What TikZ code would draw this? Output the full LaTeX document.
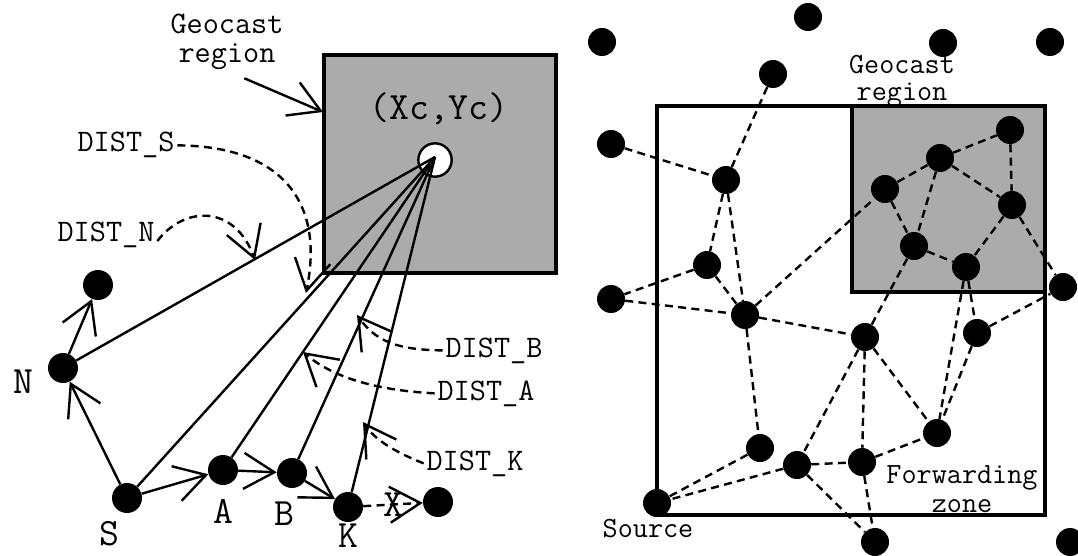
\documentclass[tikz,border=0pt]{standalone}
\usepackage{fontspec}
\usetikzlibrary{arrows.meta}

\definecolor{zonegray}{gray}{0.67}

\tikzset{
  dot/.style={circle, fill=black, inner sep=0pt, minimum size=22.5pt},
  rdot/.style={circle, fill=black, inner sep=0pt, minimum size=21pt},
  ray/.style={line width=1.8pt},
  hop/.style={line width=1.8pt, -{Straight Barb[length=23pt,width=27pt]}},
  link/.style={line width=1.8pt, dash pattern=on 6pt off 4pt},
  big/.style={font=\ttfamily\fontsize{29}{31}\selectfont, inner sep=0pt},
  txt/.style={font=\ttfamily\fontsize{23.5}{22}\selectfont, inner sep=2pt, align=center},
  rtxt/.style={font=\ttfamily\fontsize{22}{20}\selectfont, inner sep=1pt, align=center}
}

\begin{document}
\begin{tikzpicture}[x=0.75pt, y=-0.75pt]
\useasboundingbox (0,0) rectangle (1078,556);

% ---- left: distance based forwarding ----
\draw[line width=2.6pt, fill=zonegray] (324,55) rectangle (556,273);
\node[big, anchor=base] (xy) at (439,120) {(Xc,Yc)};
\node[circle, draw, fill=white, line width=1.8pt, inner sep=0pt, minimum size=25pt] (cc) at (435,160) {};
\coordinate (ctr) at (435,157);

% hosts
\foreach \n/\x/\y in {nT/98/285, nN/63/368, nS/127/498, nA/223/470,
                      nB/292/473, nK/348/507, nX/438/502}
  \node[dot] (\n) at (\x,\y) {};

% distances to the centre
\foreach \n in {nN,nS,nA,nB,nK}
  \draw[ray] (ctr) -- (\n);

% forwarding hops
\draw[hop] (nN) -- (nT);
\draw[hop] (nS) -- (nN);
\draw[hop] (nS) -- (nA);
\draw[hop] (nA) -- (nB);
\draw[hop] (nB) -- (nK);
\draw[hop, link] (nK) -- node[big] (lX) {X} (nX);

% host names
\node[big, anchor=base] (lN) at (23,393) {N};
\node[big, anchor=base] (lS) at (109,545) {S};
\node[big, anchor=base] (lA) at (223,523) {A};
\node[big, anchor=base] (lB) at (284,525) {B};
\node[big, anchor=base] (lK) at (348,547) {K};

% region label
\node[txt] (gL) at (227,42) {Geocast\\region};
\coordinate (gTip) at (323,112);
\draw[hop] ([xshift=13pt,yshift=-4pt]gL.south) -- (gTip);

% distance labels
\node[txt, anchor=base] (dS) at (126,152) {DIST\_S};
\node[txt, anchor=base] (dN) at (106,241) {DIST\_N};
\node[txt, anchor=base] (dB) at (494,357) {DIST\_B};
\node[txt, anchor=base] (dA) at (486,400) {DIST\_A};
\node[txt, anchor=base] (dK) at (475,470) {DIST\_K};
\coordinate (tS) at (306,293);
\coordinate (tN) at (255,260);
\coordinate (tB) at (357,315);
\coordinate (tA) at (303,352);
\coordinate (tK) at (363,422);
\draw[hop, link] (dS.east) .. controls (280,146) and (325,200) .. (tS);
\draw[hop, link] (dN.base east) .. controls (185,205) and (235,205) .. (tN);
\draw[hop, link] (dB.west) .. controls (395,350) and (375,340) .. (tB);
\draw[hop, link] (dA.west) .. controls (370,390) and (330,375) .. (tA);
\draw[hop, link] (dK.west) .. controls (395,452) and (375,440) .. (tK);

% ---- right: forwarding zone ----
\draw[line width=2.5pt] (657,106) rectangle (1045,515);
\draw[line width=2.5pt, fill=zonegray] (852,106) rectangle (1045,292);

\foreach \n/\x/\y in {r1/808/17, r2/602/42, r3/943/43, r4/1050/42, r5/773/74,
                      r6/611/144, r7/726/180, r8/1010/130, r9/940/158, r10/885/189,
                      r11/1012/205, r12/914/246, r13/966/267, r14/707/265, r15/1063/287,
                      r16/611/299, r17/745/315, r18/865/337, r19/977/333, r20/760/448,
                      r21/797/465, r22/862/462, r23/937/433, r24/657/503, r25/875/542,
                      r26/1070/542}
  \node[rdot] (\n) at (\x,\y) {};

\foreach \a/\b in {r5/r7, r6/r7, r7/r14, r7/r17, r14/r16, r16/r17, r14/r17,
                   r17/r10, r10/r9, r9/r8, r8/r11, r9/r11, r9/r12, r10/r12,
                   r12/r13, r11/r13, r11/r15, r17/r18, r18/r12, r13/r19, r13/r23,
                   r19/r23, r19/r15, r18/r21, r18/r22, r18/r23, r17/r20, r20/r24,
                   r21/r24, r21/r22, r22/r23, r21/r25, r22/r25}
  \draw[link] (\a) -- (\b);

\node[rtxt] (gR) at (902,81) {Geocast\\region};
\node[rtxt] (fz) at (962,489) {Forwarding\\[2pt]zone};
\node[rtxt, anchor=base] (src) at (648,537) {Source};

\end{tikzpicture}
\end{document}
